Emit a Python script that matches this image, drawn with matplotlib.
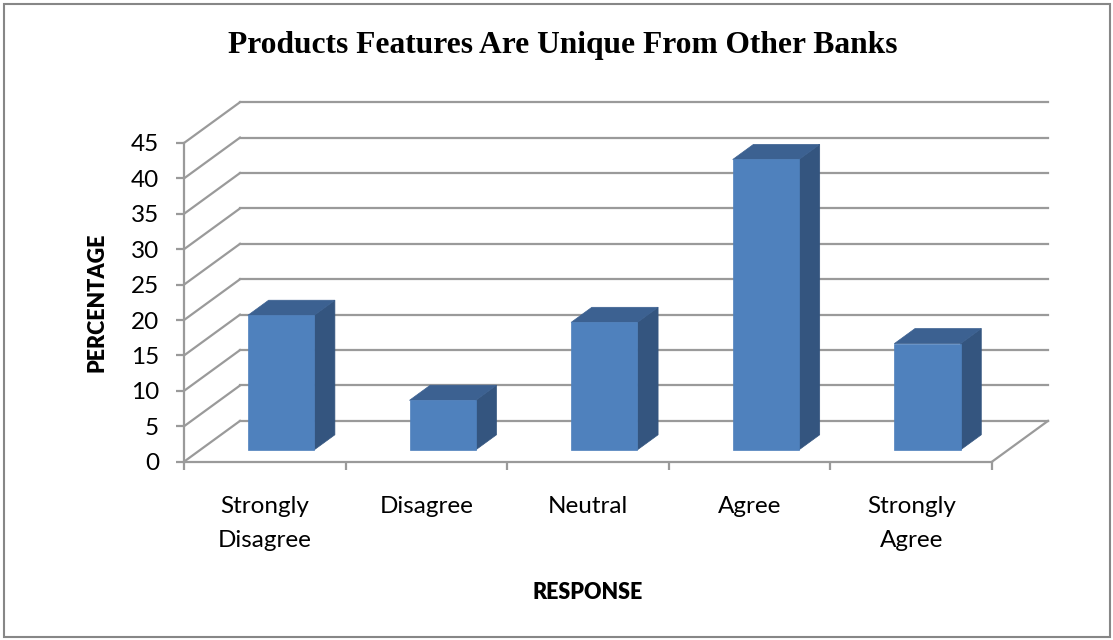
import matplotlib.pyplot as plt
from matplotlib.patches import Polygon, Rectangle

categories = ["Strongly\nDisagree", "Disagree", "Neutral", "Agree", "Strongly\nAgree"]
values = [19, 7, 18, 41, 15]
y_ticks = list(range(0, 50, 5))

# fake 3d: offset of the back wall in data units (x in categories, y in value units)
DX = 0.3465
DY = 5.76
BAR_FRONT = 0.29
BAR_BACK = 0.66
BAR_W = 0.41

GRID = "#9a9a9a"
FRONT = "#4f81bd"
SIDE = "#34557f"
TOP = "#3c6191"


def proj(x, y, depth):
    return (x + depth * DX, y + depth * DY)


fig = plt.figure(figsize=(11.13, 6.4), dpi=100)
ax = fig.add_axes([184 / 1113, (640 - 461.7) / 640, 808 / 1113, 318.7 / 640])
ax.set_xlim(0, 5)
ax.set_ylim(0, 45)
ax.set_facecolor("none")

for s in ["top", "right"]:
    ax.spines[s].set_visible(False)
for s in ["left", "bottom"]:
    ax.spines[s].set_color(GRID)
    ax.spines[s].set_linewidth(1.6)

# back wall grid + left wall diagonals
for v in y_ticks:
    x0, y0 = proj(0, v, 1)
    x1, y1 = proj(5, v, 1)
    ax.plot([x0, x1], [y0, y1], color=GRID, lw=1.6, clip_on=False, zorder=1)
    ax.plot([0, x0], [v, y0], color=GRID, lw=1.6, clip_on=False, zorder=1)
# floor right edge
fx, fy = proj(5, 0, 1)
ax.plot([5, fx], [0, fy], color=GRID, lw=1.6, clip_on=False, zorder=1)

# bars
for i, v in enumerate(values):
    left = i + 0.5 - BAR_W / 2
    right = i + 0.5 + BAR_W / 2
    front = [proj(left, 0, BAR_FRONT), proj(right, 0, BAR_FRONT),
             proj(right, v, BAR_FRONT), proj(left, v, BAR_FRONT)]
    side = [proj(right, 0, BAR_FRONT), proj(right, 0, BAR_BACK),
            proj(right, v, BAR_BACK), proj(right, v, BAR_FRONT)]
    top = [proj(left, v, BAR_FRONT), proj(right, v, BAR_FRONT),
           proj(right, v, BAR_BACK), proj(left, v, BAR_BACK)]
    for pts, c in [(side, SIDE), (top, TOP), (front, FRONT)]:
        ax.add_patch(Polygon(pts, closed=True, facecolor=c, edgecolor=c,
                             lw=0.5, clip_on=False, zorder=3))

ax.set_yticks(y_ticks)
ax.set_yticklabels([str(t) for t in y_ticks], fontsize=17.5, fontfamily="Lato")
ax.tick_params(axis="y", direction="out", length=6, width=1.6, color=GRID, pad=12)

ax.set_xticks(range(6))
ax.set_xticklabels([""] * 6)
ax.tick_params(axis="x", which="major", direction="out", length=6, width=1.6, color=GRID)
ax.set_xticks([i + 0.5 for i in range(5)], minor=True)
ax.set_xticklabels(categories, minor=True, fontsize=17.5, fontfamily="Lato",
                   linespacing=1.75)
ax.tick_params(axis="x", which="minor", length=0, pad=25)

ax.set_ylabel("PERCENTAGE", fontsize=15.5, fontweight="heavy", fontfamily="Lato",
              labelpad=17)
ax.set_xlabel("RESPONSE", fontsize=15.5, fontweight="heavy", fontfamily="Lato",
              labelpad=22)

fig.text(563 / 1113, 1 - 53.5 / 640, "Products Features Are Unique From Other Banks",
         ha="center", va="baseline", fontsize=22.7, fontweight="bold",
         fontfamily="Liberation Serif")

fig.patches.append(Rectangle((4 / 1113, 3 / 640), 1106 / 1113, 633 / 640,
                             transform=fig.transFigure, fill=False,
                             edgecolor="#878787", lw=1.5))

fig.savefig("out.png", dpi=100)
